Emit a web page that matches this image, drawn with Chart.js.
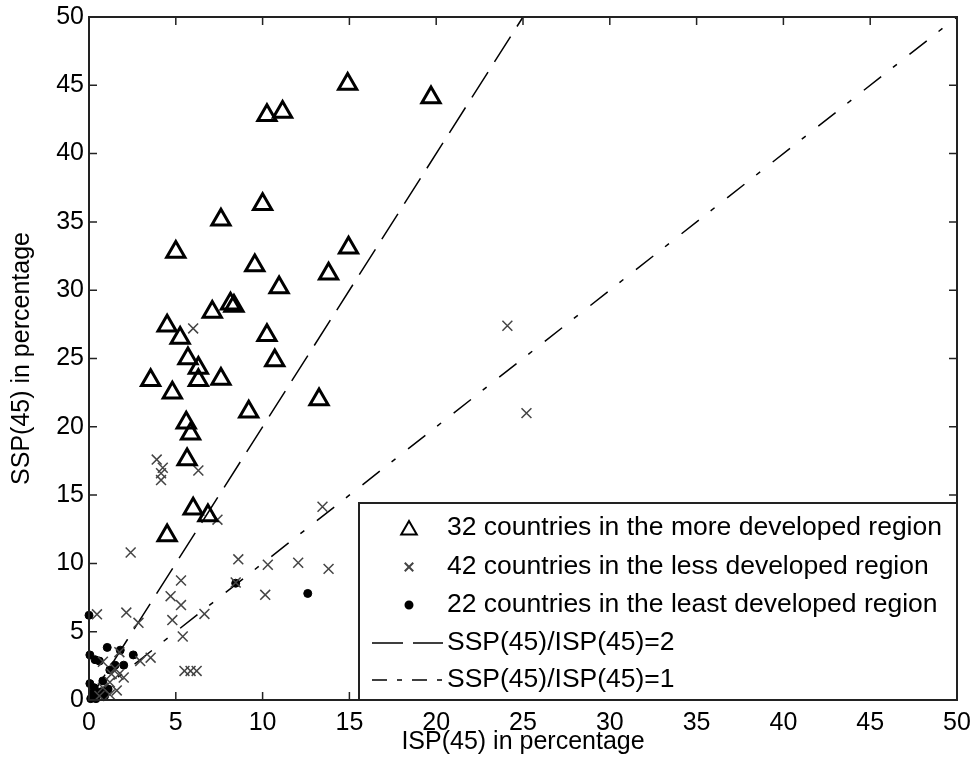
<!DOCTYPE html>
<html>
<head>
<meta charset="utf-8">
<script src="https://cdn.jsdelivr.net/npm/chart.js@4/dist/chart.umd.min.js"></script>
<style>
  html, body { margin: 0; padding: 0; background: #fff; }
  #wrap { width: 974px; height: 773px; }
</style>
</head>
<body>
<div id="wrap"><canvas id="grafica" width="974" height="773"></canvas></div>
<script>
// ticks de los ejes (0..50 de 5 en 5)
const tickValues = [0, 5, 10, 15, 20, 25, 30, 35, 40, 45, 50];

// 32 paises, region mas desarrollada (triangulos)
const moreDevX = [14.9, 19.7, 10.25, 11.15, 10.0, 7.6, 5.0, 14.95, 9.55, 13.8, 10.95, 8.15, 8.35, 7.1, 4.5, 5.25,
                  10.25, 5.7, 10.7, 6.3, 6.3, 7.6, 3.55, 4.8, 13.25, 9.2, 5.6, 5.85, 5.65, 6.0, 6.85, 4.5];
const moreDevY = [45.1, 44.1, 42.8, 43.05, 36.3, 35.15, 32.8, 33.1, 31.8, 31.2, 30.2, 29.0, 28.85, 28.4, 27.4, 26.5,
                  26.7, 25.0, 24.85, 24.3, 23.4, 23.5, 23.4, 22.5, 22.0, 21.1, 20.3, 19.5, 17.6, 14.0, 13.5, 12.05];

// 42 paises, region menos desarrollada (cruces)
const lessDevX = [24.1, 25.2, 6.0, 3.9, 4.25, 4.15, 4.15, 6.3, 7.4, 13.45, 2.4, 8.6, 10.3, 12.05, 13.8, 8.45, 10.15,
                  5.3, 4.7, 5.3, 2.15, 2.85, 4.8, 6.65, 0.46, 5.4, 3.55, 2.95, 5.5, 5.85, 6.2, 0.8, 1.3, 1.7, 2.0,
                  1.2, 1.6, 1.2, 0.8, 1.5, 0.6, 1.75];
const lessDevY = [27.4, 21.0, 27.2, 17.6, 17.0, 16.6, 16.1, 16.8, 13.2, 14.15, 10.8, 10.3, 9.9, 10.05, 9.6, 8.6, 7.7,
                  8.75, 7.6, 6.95, 6.4, 5.65, 5.85, 6.3, 6.27, 4.65, 3.1, 2.85, 2.13, 2.13, 2.13, 2.8, 1.9, 1.85, 1.65,
                  1.3, 0.7, 0.4, 0.9, 2.3, 0.3, 3.5];

// 22 paises, region menos adelantada (puntos)
const leastDevX = [12.6, 8.45, 0.0, 1.05, 1.8, 2.55, 0.05, 0.35, 0.6, 1.5, 2.0, 1.2, 0.05, 0.3, 0.8, 1.1, 0.2, 0.5,
                   0.9, 0.1, 0.4, 0.7];
const leastDevY = [7.8, 8.55, 6.2, 3.85, 3.65, 3.3, 3.3, 2.95, 2.85, 2.55, 2.55, 2.2, 1.2, 0.9, 1.4, 0.8, 0.5, 0.4,
                   0.3, 0.1, 0.1, 0.6];

// rectas de referencia
const ratio2X = [0, 25];
const ratio2Y = [0, 50];
const ratio1X = [0, 50];
const ratio1Y = [0, 50];

const legendLabels = [
    '32 countries in the more developed region',
    '42 countries in the less developed region',
    '22 countries in the least developed region',
    'SSP(45)/ISP(45)=2',
    'SSP(45)/ISP(45)=1'
];

const FONT = '"Liberation Sans", Arial, sans-serif';
const toPoints = (xs, ys) => xs.map((v, i) => ({ x: v, y: ys[i] }));

// marco + ticks hacia dentro (estilo MATLAB)
const marcoPlugin = {
    id: 'marco',
    afterDatasetsDraw(chart) {
        const { ctx, chartArea: a, scales: { x, y } } = chart;
        ctx.save();
        ctx.strokeStyle = '#222';
        ctx.lineWidth = 1.5;
        ctx.beginPath();
        tickValues.forEach(v => {
            const px = x.getPixelForValue(v);
            ctx.moveTo(px, a.bottom); ctx.lineTo(px, a.bottom - 8);
            ctx.moveTo(px, a.top); ctx.lineTo(px, a.top + 8);
            const py = y.getPixelForValue(v);
            ctx.moveTo(a.left, py); ctx.lineTo(a.left + 8, py);
            ctx.moveTo(a.right, py); ctx.lineTo(a.right - 8, py);
        });
        ctx.stroke();
        ctx.lineWidth = 2;
        ctx.strokeRect(a.left, a.top, a.right - a.left, a.bottom - a.top);
        ctx.restore();
    }
};

// leyenda dentro del area, abajo a la derecha
const leyendaPlugin = {
    id: 'leyenda',
    afterDraw(chart) {
        const { ctx, chartArea: a } = chart;
        const left = a.right - 598, top = a.bottom - 197;
        ctx.save();
        ctx.fillStyle = '#fff';
        ctx.fillRect(left, top, a.right - left, a.bottom - top);
        ctx.strokeStyle = '#222';
        ctx.lineWidth = 2;
        ctx.strokeRect(left, top, a.right - left, a.bottom - top);

        const rows = [25, 64, 102, 140, 177];
        const mx = left + 50;
        chart.data.datasets.forEach((ds, i) => {
            const yy = top + rows[i];
            if (ds.showLine) {
                ctx.setLineDash(ds.legendDash);
                ctx.strokeStyle = '#000';
                ctx.lineWidth = 1.5;
                ctx.beginPath();
                ctx.moveTo(left + 13, yy);
                ctx.lineTo(left + 84, yy);
                ctx.stroke();
                ctx.setLineDash([]);
            } else {
                ctx.fillStyle = ds.pointBackgroundColor;
                ctx.strokeStyle = ds.pointBorderColor;
                Chart.helpers.drawPoint(ctx, {
                    pointStyle: ds.pointStyle,
                    radius: ds.legendRadius,
                    rotation: 0,
                    borderWidth: ds.pointBorderWidth
                }, mx, yy + (ds.pointStyle === 'triangle' ? 2 : 0));
            }
            ctx.fillStyle = '#000';
            ctx.font = '26.5px ' + FONT;
            ctx.textBaseline = 'middle';
            ctx.textAlign = 'left';
            ctx.fillText(legendLabels[i], left + 88, yy);
        });
        ctx.restore();
    }
};

const ctx = document.getElementById('grafica').getContext('2d');
const chart = new Chart(ctx, {
    type: 'scatter',
    data: {
        datasets: [
            {
                label: legendLabels[0],
                data: toPoints(moreDevX, moreDevY),
                pointStyle: 'triangle',
                pointRadius: 10.5,
                legendRadius: 9,
                pointBorderWidth: 3,
                pointBorderColor: '#000',
                pointBackgroundColor: 'rgba(255,255,255,0)',
                clip: false
            },
            {
                label: legendLabels[1],
                data: toPoints(lessDevX, lessDevY),
                pointStyle: 'crossRot',
                pointRadius: 7,
                legendRadius: 6,
                pointBorderWidth: 1.5,
                pointBorderColor: '#444',
                pointBackgroundColor: '#444',
                clip: false
            },
            {
                label: legendLabels[2],
                data: toPoints(leastDevX, leastDevY),
                pointStyle: 'circle',
                pointRadius: 4,
                legendRadius: 3.5,
                pointBorderWidth: 1,
                pointBorderColor: '#000',
                pointBackgroundColor: '#000',
                clip: false
            },
            {
                label: legendLabels[3],
                data: toPoints(ratio2X, ratio2Y),
                showLine: true,
                pointRadius: 0,
                borderColor: '#000',
                borderWidth: 1.5,
                borderDash: [30, 12],
                legendDash: [31, 10],
                clip: false
            },
            {
                label: legendLabels[4],
                data: toPoints(ratio1X, ratio1Y),
                showLine: true,
                pointRadius: 0,
                borderColor: '#000',
                borderWidth: 1.5,
                borderDash: [22, 15, 5, 16],
                legendDash: [15, 10, 5, 10],
                clip: false
            }
        ]
    },
    options: {
        responsive: false,
        animation: false,
        layout: { padding: { top: 17, right: 17, left: 0, bottom: 0 } },
        plugins: {
            legend: { display: false },
            tooltip: { enabled: false }
        },
        scales: {
            x: {
                type: 'linear',
                min: 0,
                max: 50,
                afterFit: (s) => { s.height = 73; s.paddingLeft = 0; s.paddingRight = 0; },
                ticks: { stepSize: 5, padding: 8, color: '#000', font: { family: FONT, size: 25 } },
                grid: { display: false, drawTicks: false },
                border: { display: false },
                title: {
                    display: true,
                    text: 'ISP(45) in percentage',
                    color: '#000',
                    font: { family: FONT, size: 25 },
                    padding: { top: 0, bottom: 16 }
                }
            },
            y: {
                type: 'linear',
                min: 0,
                max: 50,
                afterFit: (s) => { s.width = 89; s.paddingTop = 0; s.paddingBottom = 0; },
                ticks: { stepSize: 5, padding: 5, color: '#000', font: { family: FONT, size: 25 } },
                grid: { display: false, drawTicks: false },
                border: { display: false },
                title: {
                    display: true,
                    text: 'SSP(45) in percentage',
                    color: '#000',
                    font: { family: FONT, size: 25 },
                    padding: { top: 7, bottom: 0 }
                }
            }
        }
    },
    plugins: [marcoPlugin, leyendaPlugin]
});
</script>
</body>
</html>
